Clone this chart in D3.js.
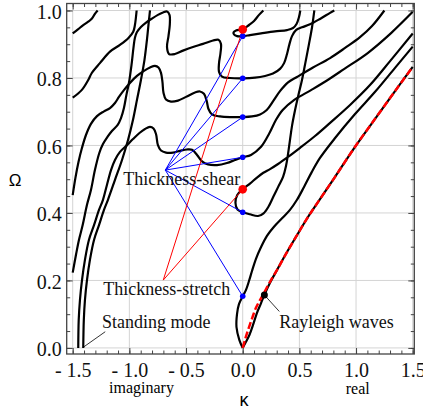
<!DOCTYPE html>
<html>
<head>
<meta charset="utf-8">
<title>Dispersion curves</title>
<style>
body { margin: 0; background: #fff; }
</style>
</head>
<body>
<script src="https://cdn.jsdelivr.net/npm/d3@7"></script>
<script>

// tick values
var xMajor = [-1.5, -1.0, -0.5, 0.0, 0.5, 1.0, 1.5];
var yMajor = [0.0, 0.2, 0.4, 0.6, 0.8, 1.0];

// branches, each point is [kappa, Omega]
var branchTopLeft = [[-1.5,0.932],[-1.454,0.944],[-1.41,0.956],[-1.366,0.966],[-1.33,0.976],[-1.304,0.99],[-1.28,1.0]];

var branchUpper = [[-1.5,0.742],[-1.421,0.764],[-1.363,0.794],[-1.333,0.814],[-1.26,0.844],[-1.171,0.878],
  [-1.083,0.898],[-1.01,0.918],[-0.966,0.937],[-0.951,0.957],[-0.936,1.0]];

var standing1 = [[-1.451,0],[-1.447,0.083],[-1.436,0.142],[-1.418,0.201],[-1.392,0.261],[-1.357,0.32],
  [-1.312,0.364],[-1.268,0.409],[-1.233,0.439],[-1.198,0.483],[-1.162,0.527],[-1.127,0.557],[-1.083,0.581],
  [-1.021,0.601],[-0.968,0.619],[-0.911,0.637],[-0.862,0.649],[-0.818,0.655],[-0.787,0.65],[-0.765,0.634],
  [-0.748,0.601],[-0.721,0.585],[-0.677,0.579],[-0.615,0.579],[-0.553,0.584],[-0.492,0.588],[-0.447,0.587],
  [-0.403,0.572],[-0.359,0.553],[-0.306,0.544],[-0.227,0.542],[-0.139,0.548],[-0.068,0.557],[0,0.565],
  [0.073,0.572],[0.162,0.596],[0.235,0.636],[0.294,0.676],[0.353,0.705],[0.455,0.735],[0.603,0.764],
  [0.75,0.794],[0.897,0.827],[1.103,0.874],[1.309,0.933],[1.5,0.996]];

var standing2 = [[-1.407,0],[-1.402,0.083],[-1.392,0.142],[-1.374,0.201],[-1.348,0.261],[-1.312,0.32],
  [-1.268,0.364],[-1.224,0.409],[-1.189,0.439],[-1.127,0.498],[-1.065,0.557],[-1.012,0.616],[-0.968,0.676],
  [-0.933,0.735],[-0.898,0.794],[-0.867,0.853],[-0.845,0.913],[-0.827,0.972],[-0.818,1.0]];

var branchLow = [[-1.5,0.223],[-1.471,0.276],[-1.445,0.32],[-1.412,0.364],[-1.374,0.424],[-1.339,0.468],
  [-1.304,0.527],[-1.266,0.577],[-1.233,0.604],[-1.192,0.626],[-1.154,0.643],[-1.103,0.661],[-1.074,0.681],
  [-1.048,0.711],[-1.026,0.75],[-1.004,0.785],[-0.981,0.839],[-0.964,0.889],[-0.951,0.919],[-0.933,0.936],
  [-0.898,0.951],[-0.853,0.964],[-0.801,0.976],[-0.748,0.987],[-0.703,0.994],[-0.668,0.997],[-0.646,0.987],
  [-0.643,0.96],[-0.655,0.924],[-0.668,0.892],[-0.65,0.871],[-0.598,0.871],[-0.527,0.881],[-0.439,0.892],
  [-0.35,0.901],[-0.262,0.911],[-0.214,0.913],[-0.192,0.901],[-0.196,0.874],[-0.209,0.844],[-0.209,0.818],
  [-0.183,0.804],[-0.112,0.8],[0,0.799],[0.109,0.801],[0.197,0.806],[0.267,0.813],[0.329,0.827],[0.365,0.844],
  [0.391,0.871],[0.413,0.901],[0.435,0.924],[0.47,0.942],[0.523,0.95],[0.594,0.959],[0.682,0.975],
  [0.771,0.993],[0.808,1.0]];

var branchMid = [[-1.5,0.453],[-1.476,0.504],[-1.449,0.551],[-1.418,0.593],[-1.383,0.631],[-1.339,0.664],
  [-1.286,0.687],[-1.224,0.701],[-1.171,0.711],[-1.127,0.726],[-1.092,0.744],[-1.048,0.764],[-0.995,0.785],
  [-0.933,0.806],[-0.871,0.821],[-0.818,0.831],[-0.774,0.836],[-0.743,0.831],[-0.721,0.815],[-0.708,0.788],
  [-0.699,0.756],[-0.677,0.736],[-0.633,0.73],[-0.571,0.733],[-0.5,0.744],[-0.421,0.757],[-0.377,0.76],
  [-0.342,0.753],[-0.318,0.732],[-0.302,0.708],[-0.271,0.692],[-0.2,0.686],[-0.094,0.684],[0,0.684],
  [0.082,0.686],[0.153,0.692],[0.212,0.705],[0.27,0.732],[0.329,0.761],[0.4,0.787],[0.479,0.803],
  [0.62,0.831],[0.771,0.859],[0.903,0.889],[1.035,0.921],[1.141,0.954],[1.25,1.0]];

var loopTop = [[0.508,1.0],[0.497,0.981],[0.475,0.96],[0.444,0.948],[0.391,0.942],[0.285,0.938],[0.162,0.932],
  [0.064,0.927],[0,0.924],[-0.05,0.924],[-0.077,0.929],[-0.081,0.935],[-0.059,0.941],[0,0.944],[0.056,0.957],
  [0.1,0.969],[0.144,0.987],[0.182,1.0]];

var loopMid = [[1.5,0.932],[1.3,0.85],[1.123,0.779],[0.947,0.72],[0.771,0.667],[0.638,0.628],[0.506,0.593],
  [0.4,0.566],[0.312,0.545],[0.241,0.53],[0.182,0.519],[0.126,0.505],[0.064,0.487],[0,0.47],[-0.048,0.453],
  [-0.064,0.43],[-0.046,0.41],[0,0.402],[0.064,0.396],[0.135,0.391],[0.184,0.399],[0.228,0.419],[0.27,0.448],
  [0.314,0.478],[0.356,0.507],[0.382,0.539],[0.4,0.575],[0.417,0.616],[0.435,0.658],[0.462,0.705],
  [0.492,0.75],[0.523,0.794],[0.554,0.847],[0.585,0.901],[0.612,0.951],[0.632,1.0]];

var loopLow = [[0,0],[-0.03,0.024],[-0.055,0.062],[-0.05,0.101],[-0.033,0.13],[0,0.153],[0.029,0.172],
  [0.056,0.199],[0.082,0.228],[0.117,0.264],[0.162,0.299],[0.214,0.332],[0.276,0.359],[0.347,0.384],
  [0.417,0.409],[0.479,0.439],[0.541,0.477],[0.609,0.521],[0.682,0.563],[0.815,0.622],[0.991,0.693],
  [1.168,0.759],[1.344,0.83],[1.5,0.893]];

var rayleigh = [[0,0],[0.029,0.018],[0.06,0.039],[0.091,0.068],[0.126,0.104],[0.162,0.133],[0.191,0.157],
  [0.241,0.193],[0.303,0.231],[0.382,0.279],[0.47,0.329],[0.576,0.388],[0.682,0.441],[0.815,0.507],
  [0.985,0.593],[1.168,0.679],[1.344,0.761],[1.5,0.833]];

var rayleighApprox = [[0,0],[0.02,0.024],[0.047,0.053],[0.082,0.087],[0.117,0.119],[0.153,0.142],
  [0.188,0.163],[0.241,0.196],[0.303,0.231],[0.382,0.279],[0.47,0.329],[0.576,0.388],[0.682,0.441],
  [0.815,0.507],[0.985,0.593],[1.168,0.679],[1.344,0.761],[1.5,0.833]];

// marked points at kappa = 0
var shearOmega = [0.924, 0.799, 0.684, 0.565, 0.402, 0.153];
var stretchOmega = [0.944, 0.470];
var shearFrom = [-0.683, 0.527];
var stretchFrom = [-0.701, 0.201];
var rayleighPoint = [0.191, 0.157];

var margin = {top: 3.5, right: 8.7, bottom: 60, left: 66.7},
    width  = 423 - margin.left - margin.right,
    height = 414 - margin.top - margin.bottom;

var x = d3.scaleLinear().domain([-1.553, 1.514]).range([0, width]);
var y = d3.scaleLinear().domain([-0.018, 1.0207]).range([height, 0]);

var svg = d3.select("body").append("svg")
    .attr("width", 423)
    .attr("height", 414)
    .style("display", "block");

var chart = svg.append("g")
    .attr("transform", "translate(" + margin.left + "," + margin.top + ")");

chart.append("clipPath").attr("id", "clip")
  .append("rect").attr("width", width).attr("height", height);

// grid
chart.selectAll(".gx").data(xMajor).enter().append("line")
    .attr("x1", d => x(d)).attr("x2", d => x(d))
    .attr("y1", 0).attr("y2", height)
    .style("stroke", "#d4d4d4").style("stroke-width", 1);
chart.selectAll(".gy").data(yMajor).enter().append("line")
    .attr("x1", 0).attr("x2", width)
    .attr("y1", d => y(d)).attr("y2", d => y(d))
    .style("stroke", "#d4d4d4").style("stroke-width", 1);

var plot = chart.append("g").attr("clip-path", "url(#clip)");

var line = d3.line()
    .x(d => x(d[0]))
    .y(d => y(d[1]))
    .curve(d3.curveCatmullRom.alpha(0.5));

var branches = [branchTopLeft, branchUpper, standing1, standing2, branchLow, branchMid,
                loopTop, loopMid, loopLow, rayleigh];

plot.selectAll(".branch").data(branches).enter().append("path")
    .attr("d", line)
    .style("fill", "none")
    .style("stroke", "#000")
    .style("stroke-width", 2.2)
    .style("stroke-linejoin", "round");

plot.append("path")
    .datum(rayleighApprox)
    .attr("d", line)
    .style("fill", "none")
    .style("stroke", "#ff0000")
    .style("stroke-width", 2.5)
    .style("stroke-dasharray", "7 3");

// annotation lines
plot.selectAll(".shear").data(shearOmega).enter().append("line")
    .attr("x1", x(shearFrom[0])).attr("y1", y(shearFrom[1]))
    .attr("x2", x(0)).attr("y2", d => y(d))
    .style("stroke", "#0000ff").style("stroke-width", 1);

plot.selectAll(".stretch").data(stretchOmega).enter().append("line")
    .attr("x1", x(stretchFrom[0])).attr("y1", y(stretchFrom[1]))
    .attr("x2", x(0)).attr("y2", d => y(d))
    .style("stroke", "#ff0000").style("stroke-width", 1);

chart.append("line")
    .attr("x1", x(-1.407)).attr("y1", y(0.002))
    .attr("x2", x(-1.213)).attr("y2", y(0.048))
    .style("stroke", "#000").style("stroke-width", 0.8);

chart.append("line")
    .attr("x1", x(rayleighPoint[0])).attr("y1", y(rayleighPoint[1]))
    .attr("x2", x(0.323)).attr("y2", y(0.108))
    .style("stroke", "#000").style("stroke-width", 0.8);

// dots
chart.selectAll(".bdot").data(shearOmega).enter().append("circle")
    .attr("cx", x(0)).attr("cy", d => y(d)).attr("r", 2.8)
    .style("fill", "#0000ff");
chart.selectAll(".rdot").data(stretchOmega).enter().append("circle")
    .attr("cx", x(0)).attr("cy", d => y(d)).attr("r", 4.3)
    .style("fill", "#ff0000");
chart.append("circle")
    .attr("cx", x(rayleighPoint[0])).attr("cy", y(rayleighPoint[1])).attr("r", 3.5)
    .style("fill", "#000");

// labels
var serif = "'Liberation Serif', 'Times New Roman', serif";
function label(t, k, w) {
  chart.append("text")
    .attr("x", x(k)).attr("y", y(w))
    .style("font-family", serif).style("font-size", "18px")
    .style("fill", "#111")
    .text(t);
}
label("Thickness-shear", -1.054, 0.483);
label("Thickness-stretch", -1.23, 0.157);
label("Standing mode", -1.242, 0.058);
label("Rayleigh waves", 0.323, 0.06);

// frame and ticks
var xMinor = d3.range(-15, 16).map(d => d / 10);
var yMinor = d3.range(0, 21).map(d => d / 20);
var fmtX = d => d < 0 ? "- " + Math.abs(d).toFixed(1) : d.toFixed(1);

function ticks(axis, tx, ty, vals, size, fmt, pad) {
  var g = chart.append("g")
    .attr("transform", "translate(" + tx + "," + ty + ")")
    .call(axis.tickValues(vals).tickSize(size).tickPadding(pad).tickFormat(fmt));
  g.select(".domain").remove();
  g.selectAll("line").style("stroke", "#444");
  g.selectAll("text").style("font-family", serif).style("font-size", "20px").style("fill", "#111");
  return g;
}
ticks(d3.axisBottom(x), 0, height, xMinor, -3.5, "", 0);
ticks(d3.axisTop(x), 0, 0, xMinor, -3.5, "", 0);
ticks(d3.axisLeft(y), 0, 0, yMinor, -3.5, "", 0);
ticks(d3.axisRight(y), width, 0, yMinor, -3.5, "", 0);
ticks(d3.axisBottom(x), 0, height, xMajor, -6, fmtX, 9);
ticks(d3.axisTop(x), 0, 0, xMajor, -6, "", 0);
ticks(d3.axisLeft(y), 0, 0, yMajor, -6, d3.format(".1f"), 5)
    .selectAll("text").attr("dy", "0.39em");
ticks(d3.axisRight(y), width, 0, yMajor, -6, "", 0);

chart.append("rect")
    .attr("width", width).attr("height", height)
    .style("fill", "none").style("stroke", "#444").style("stroke-width", 1.3);

// axis titles
svg.append("text")
    .attr("x", 141.5).attr("y", 393)
    .attr("text-anchor", "middle")
    .style("font-family", serif).style("font-size", "16px")
    .text("imaginary");
svg.append("text")
    .attr("x", 357.7).attr("y", 394)
    .attr("text-anchor", "middle")
    .style("font-family", serif).style("font-size", "16px")
    .text("real");
svg.append("text")
    .attr("x", 244).attr("y", 406)
    .attr("text-anchor", "middle")
    .style("font-family", "'Liberation Sans', Arial, sans-serif").style("font-size", "18px")
    .text("κ");
svg.append("text")
    .attr("x", 15).attr("y", 186)
    .attr("text-anchor", "middle")
    .style("font-family", "'Liberation Sans', Arial, sans-serif").style("font-size", "17px")
    .text("Ω");
</script>
</body>
</html>
